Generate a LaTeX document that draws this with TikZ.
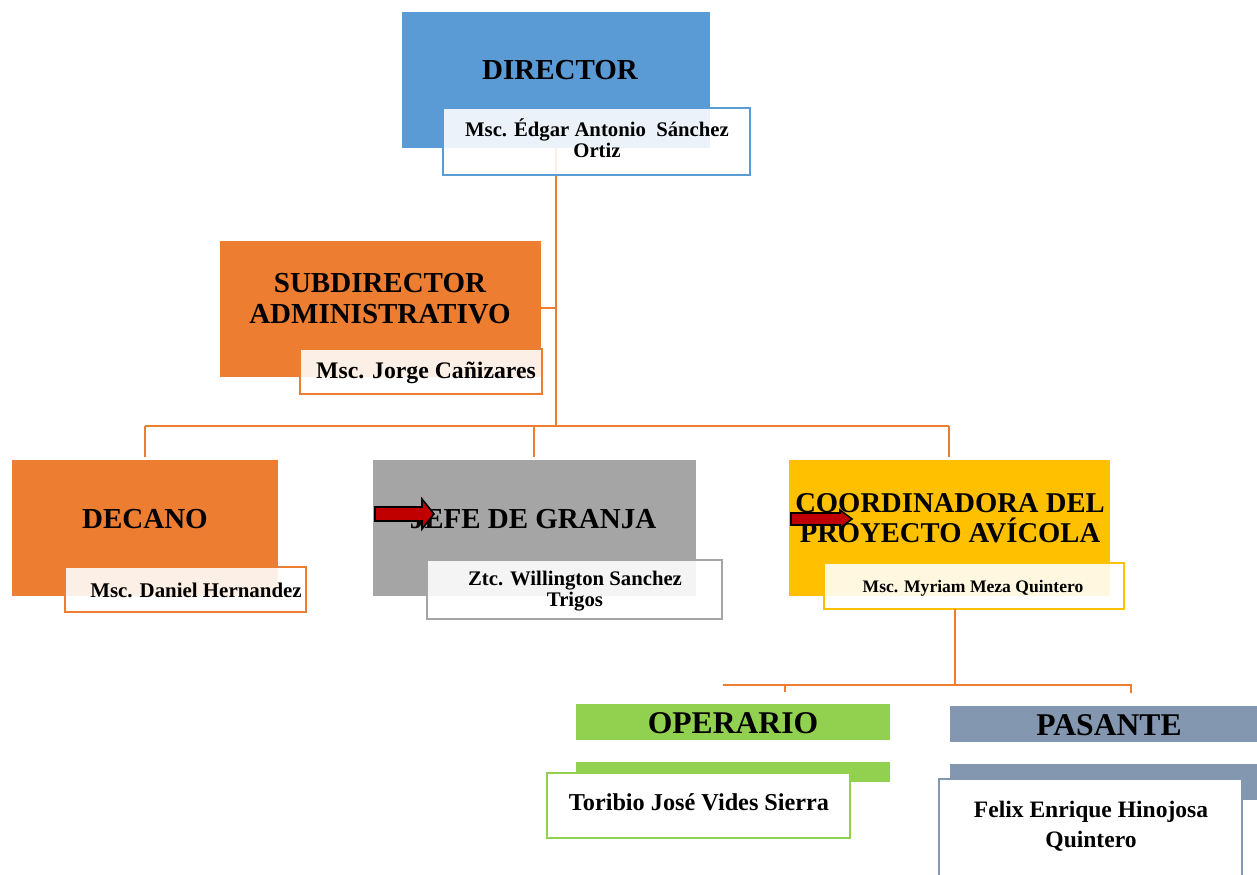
\documentclass[tikz,border=0pt]{standalone}
\usepackage{fontspec}
\setmainfont{Liberation Serif}
\usetikzlibrary{calc}
\definecolor{cblue}{HTML}{5B9BD5}
\definecolor{corange}{HTML}{ED7D31}
\definecolor{cgray}{HTML}{A5A5A5}
\definecolor{cgold}{HTML}{FFC000}
\definecolor{cgreen}{HTML}{92D050}
\definecolor{cslate}{HTML}{8497B0}
\definecolor{cred}{HTML}{C00000}
\begin{document}
\begin{tikzpicture}[x=0.02cm,y=-0.02cm,
  mainbox/.style={draw=none,inner sep=0pt,outer sep=0pt,minimum height=2.72cm},
  subbox/.style={fill=white,fill opacity=0.88,text opacity=1,line width=1.3pt,inner sep=0pt,outer sep=0pt},
  whitebox/.style={fill=white,line width=1.3pt,inner sep=0pt,outer sep=0pt},
  bar/.style={draw=none,inner sep=0pt,outer sep=0pt},
  title/.style={font=\bfseries\fontsize{16.5}{17.6}\selectfont,align=center,inner sep=0pt},
  conn/.style={draw=corange,line width=1.1pt},
  blockarrow/.style={draw=black,fill=cred,line width=0.9pt,line join=miter}]
\useasboundingbox (0,0) rectangle (1257,875);

% ---------- connector junctions ----------
\coordinate (trunk) at (556,426);
\coordinate (hl) at (145,426);
\coordinate (hr) at (949,426);
\coordinate (ch) at (955,685);
\coordinate (chl) at (723,685);
\coordinate (chr) at (1132,685);

% ---------- DIRECTOR ----------
\node[mainbox,fill=cblue,minimum width=6.16cm] (dir) at (556,80) {};
\node[title,anchor=base] (dirt) at (560,80) {DIRECTOR};
\draw[conn] (dir.south -| trunk) -- (trunk);
\node[subbox,draw=cblue,minimum width=6.14cm,minimum height=1.34cm] (dirs) at (596.5,141.5) {};
\node[font=\bfseries\fontsize{11.8}{12}\selectfont,align=center,inner sep=0pt] (dirst) at (597,138.5)
  {Msc. Édgar Antonio\ \ Sánchez\\Ortiz};

% ---------- SUBDIRECTOR ----------
\node[mainbox,fill=corange,minimum width=6.42cm] (sub) at (380.5,309) {};
\node[title] (subt) at (380,299) {SUBDIRECTOR\\ADMINISTRATIVO};
\node[subbox,draw=corange,minimum width=4.84cm,minimum height=0.9cm] (subs) at (421,371.5) {};
\node[font=\bfseries\fontsize{13.5}{14}\selectfont,anchor=base,inner sep=0pt] (subst) at (426,378) {Msc. Jorge Cañizares};
\draw[conn] (sub.east |- 0,308) -- (trunk |- 0,308);

% ---------- horizontal distribution ----------
\draw[conn] (hl) -- (hr);

% ---------- DECANO ----------
\node[mainbox,fill=corange,minimum width=5.32cm] (dec) at (145,528) {};
\node[title,anchor=base] (dect) at (145,528) {DECANO};
\node[subbox,draw=corange,minimum width=4.82cm,minimum height=0.9cm] (decs) at (185.5,589.5) {};
\node[font=\bfseries\fontsize{11.9}{12}\selectfont,anchor=base,inner sep=0pt] (decst) at (196,597) {Msc. Daniel Hernandez};
\draw[conn] (hl) -- ($(dec.north -| hl)+(0,-3)$);

% ---------- JEFE DE GRANJA ----------
\node[mainbox,fill=cgray,minimum width=6.46cm] (jef) at (534.5,528) {};
\node[title,anchor=base] (jeft) at (533,528) {JEFE DE GRANJA};
\node[subbox,draw=cgray,minimum width=5.9cm,minimum height=1.18cm] (jefs) at (574.5,589.5) {};
\node[font=\bfseries\fontsize{11.8}{12.2}\selectfont,align=center,inner sep=0pt] (jefst) at (575,591)
  {Ztc. Willington Sanchez\\Trigos};
\coordinate (jdrop) at (534,426);
\draw[conn] (jdrop) -- ($(jef.north -| jdrop)+(0,-3)$);
\draw[blockarrow] (375,507) -- (422,507) -- (422,499) -- (434,514) -- (422,529) -- (422,521) -- (375,521) -- cycle;

% ---------- COORDINADORA ----------
\node[mainbox,fill=cgold,minimum width=6.42cm] (coo) at (949.5,528) {};
\node[font=\bfseries\fontsize{16.3}{17}\selectfont,align=center,inner sep=0pt] (coot) at (950,518.5)
  {COORDINADORA DEL\\PROYECTO AVÍCOLA};
\node[subbox,draw=cgold,minimum width=6.0cm,minimum height=0.92cm] (coos) at (974,586) {};
\node[font=\bfseries\fontsize{10}{11}\selectfont,anchor=base,inner sep=0pt] (coost) at (973,592) {Msc. Myriam Meza Quintero};
\draw[conn] (hr) -- ($(coo.north -| hr)+(0,-3)$);
\draw[blockarrow] (791,513) -- (840,513) -- (840,510) -- (852,519) -- (840,528) -- (840,525) -- (791,525) -- cycle;

% ---------- lower connectors ----------
\draw[conn] (coos.south -| ch) -- (ch);
\draw[conn] (chl) -- (chr);
\coordinate (op) at (785,685);
\coordinate (pa) at (1131,685);
\draw[conn] (op) -- (785,692);
\draw[conn] (pa) -- (1131,693);

% ---------- OPERARIO ----------
\node[bar,fill=cgreen,minimum width=6.28cm,minimum height=0.72cm] (ope) at (733,722) {};
\node[font=\bfseries\fontsize{18}{19}\selectfont,anchor=base,inner sep=0pt] (opet) at (733,733) {OPERARIO};
\node[bar,fill=cgreen,minimum width=6.28cm,minimum height=0.4cm] (ope2) at (733,772) {};
\node[whitebox,draw=cgreen,minimum width=6.06cm,minimum height=1.3cm] (opes) at (698.5,805.5) {};
\node[font=\bfseries\fontsize{13.8}{14}\selectfont,anchor=base,inner sep=0pt] (opest) at (699,810) {Toribio José Vides Sierra};

% ---------- PASANTE ----------
\node[bar,fill=cslate,minimum width=6.14cm,minimum height=0.72cm] (pas) at (1103.5,724) {};
\node[font=\bfseries\fontsize{18}{19}\selectfont,anchor=base,inner sep=0pt] (past) at (1109,735) {PASANTE};
\node[bar,fill=cslate,minimum width=6.14cm,minimum height=0.72cm] (pas2) at (1103.5,782) {};
\node[whitebox,draw=cslate,minimum width=6.06cm,minimum height=2.1cm] (pass) at (1090.5,831.5) {};
\node[font=\bfseries\fontsize{13.4}{17}\selectfont,align=center,inner sep=0pt] (passt) at (1091,826)
  {Felix Enrique Hinojosa\\Quintero};
\end{tikzpicture}
\end{document}
